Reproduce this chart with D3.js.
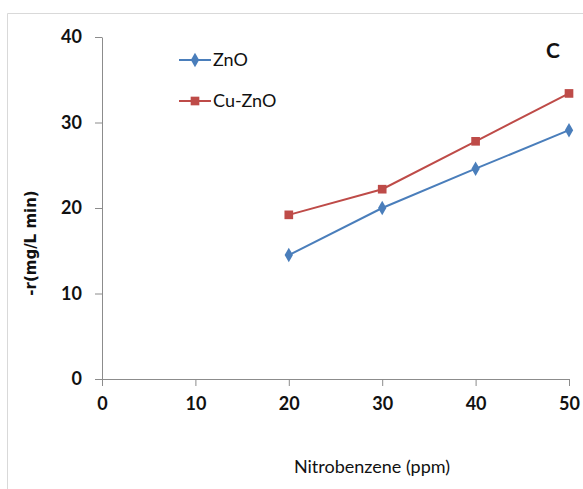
<!DOCTYPE html>
<html>
<head>
<meta charset="utf-8">
<script src="https://cdn.jsdelivr.net/npm/d3@7"></script>
<style>
  body { margin: 0; background: #fff; }
  .tick text { font-family: Lato, sans-serif; font-weight: bold; font-size: 18px; fill: #111; }
</style>
</head>
<body>
<script>
const w = 583;
const h = 489;

const concentrations = [20, 30, 40, 50];
const zno = [14.5, 20.0, 24.6, 29.1];
const cuZno = [19.2, 22.2, 27.8, 33.4];
const xTicks = [0, 10, 20, 30, 40, 50];
const yTicks = [0, 10, 20, 30, 40];

const xScale = d3.scaleLinear().domain([0, 50]).range([102, 569]);
const yScale = d3.scaleLinear().domain([0, 40]).range([379, 37]);

const svg = d3.select("body")
              .append("svg")
              .attr("width", w)
              .attr("height", h)

// frame (only top and left edges show in the picture)
svg.append("path")
   .attr("d", "M7.5," + h + "V13.5H" + w)
   .attr("fill", "none")
   .attr("stroke", "#d9d9d9")

const xAxis = d3.axisBottom(xScale).tickValues(xTicks).tickSize(7).tickPadding(8).tickSizeOuter(0)
const yAxis = d3.axisLeft(yScale).tickValues(yTicks).tickSize(7).tickPadding(13).tickSizeOuter(0)

const gx = svg.append("g")
   .attr("transform", "translate(0," + yScale(0) + ")")
   .call(xAxis)
const gy = svg.append("g")
   .attr("transform", "translate(" + xScale(0) + ",0)")
   .call(yAxis)

svg.selectAll(".domain, .tick line").attr("stroke", "#8c8c8c")
gx.selectAll(".tick text").attr("dy", "0.9em")

const series = [
  {name: "ZnO", values: zno, color: "#4a7ebb", symbol: d3.symbolDiamond, size: 60},
  {name: "Cu-ZnO", values: cuZno, color: "#be4b48", symbol: d3.symbolSquare, size: 75}
]

const line = d3.line()
               .x((d, i) => xScale(concentrations[i]))
               .y(d => yScale(d))

series.forEach(function(s) {
  svg.append("path")
     .attr("d", line(s.values))
     .attr("fill", "none")
     .attr("stroke", s.color)
     .attr("stroke-width", 2)

  svg.selectAll(null)
     .data(s.values)
     .enter()
     .append("path")
     .attr("d", d3.symbol().type(s.symbol).size(s.size))
     .attr("transform", (d, i) => "translate(" + xScale(concentrations[i]) + "," + yScale(d) + ")")
     .attr("fill", s.color)
})

// legend
const legend = svg.append("g")
series.forEach(function(s, i) {
  const y = 60 + i * 41;
  legend.append("line")
        .attr("x1", 179).attr("x2", 211)
        .attr("y1", y).attr("y2", y)
        .attr("stroke", s.color)
        .attr("stroke-width", 2)
  legend.append("path")
        .attr("d", d3.symbol().type(s.symbol).size(s.size))
        .attr("transform", "translate(195," + y + ")")
        .attr("fill", s.color)
  legend.append("text")
        .attr("x", 213)
        .attr("y", y)
        .attr("dy", "0.35em")
        .attr("font-family", "Lato, sans-serif")
        .attr("font-size", "18px")
        .attr("fill", "#111")
        .text(s.name)
})

svg.append("text")
   .attr("x", 553)
   .attr("y", 51)
   .attr("dy", "0.35em")
   .attr("text-anchor", "middle")
   .attr("font-family", "Lato, sans-serif")
   .attr("font-weight", "bold")
   .attr("font-size", "21px")
   .attr("fill", "#111")
   .text("C")

svg.append("text")
   .attr("transform", "translate(31,243) rotate(-90)")
   .attr("text-anchor", "middle")
   .attr("dy", "0.35em")
   .attr("font-family", "DejaVu Sans, sans-serif")
   .attr("font-weight", "bold")
   .attr("font-size", "15px")
   .attr("fill", "#111")
   .text("-r(mg/L min)")

svg.append("text")
   .attr("x", 372)
   .attr("y", 467)
   .attr("dy", "0.35em")
   .attr("text-anchor", "middle")
   .attr("font-family", "Lato, sans-serif")
   .attr("font-size", "18px")
   .attr("fill", "#111")
   .text("Nitrobenzene (ppm)")
</script>
</body>
</html>
